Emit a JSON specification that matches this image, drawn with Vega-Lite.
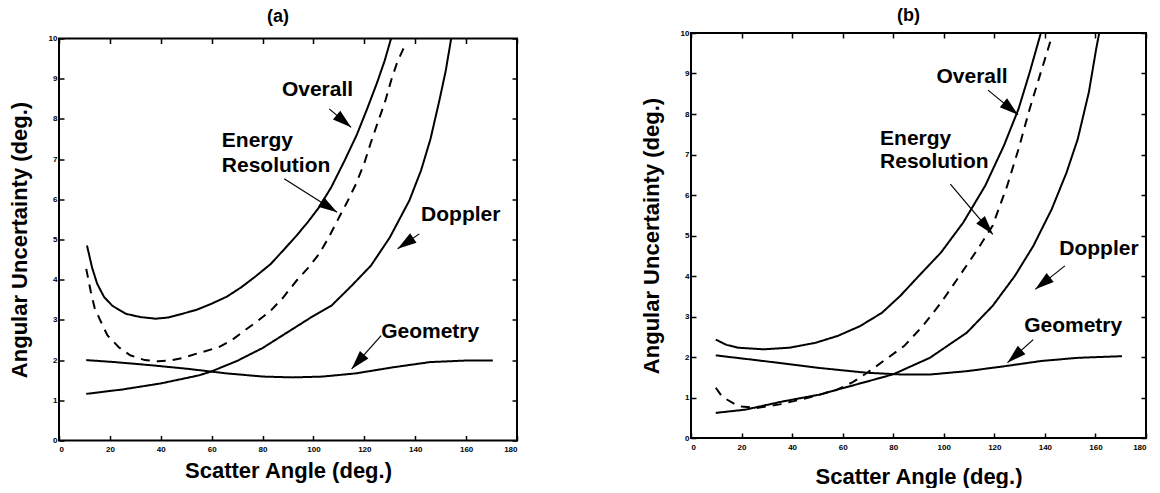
{
  "$schema": "https://vega.github.io/schema/vega-lite/v6.json",
  "background": "white",
  "padding": {"left": 7, "top": 6, "right": 0, "bottom": 0},
  "spacing": 120,
  "center": true,
  "config": {
    "font": "Liberation Sans",
    "view": {"stroke": "black", "strokeWidth": 2},
    "axis": {"domain": false, "grid": false, "tickColor": "black", "tickSize": -5, "tickWidth": 1.5, "labelFont": "Liberation Sans", "labelFontSize": 8, "labelFontWeight": "bold", "labelColor": "black", "titleFont": "Liberation Sans", "titleFontSize": 22, "titleFontWeight": "bold", "titleColor": "black"},
    "title": {"font": "Liberation Sans", "fontSize": 18, "fontWeight": "bold", "color": "black"}
  },
  "datasets": {
    "curves": [
      {"p":"a","s":"Overall","x":11,"y":4.85},{"p":"a","s":"Overall","x":13,"y":4.3},{"p":"a","s":"Overall","x":15,"y":3.9},{"p":"a","s":"Overall","x":17.7,"y":3.57},{"p":"a","s":"Overall","x":21,"y":3.35},{"p":"a","s":"Overall","x":26.4,"y":3.15},{"p":"a","s":"Overall","x":32,"y":3.07},{"p":"a","s":"Overall","x":38,"y":3.03},{"p":"a","s":"Overall","x":43,"y":3.06},{"p":"a","s":"Overall","x":48.3,"y":3.15},{"p":"a","s":"Overall","x":54,"y":3.25},{"p":"a","s":"Overall","x":59.9,"y":3.4},{"p":"a","s":"Overall","x":66,"y":3.58},{"p":"a","s":"Overall","x":71.6,"y":3.81},{"p":"a","s":"Overall","x":77,"y":4.07},{"p":"a","s":"Overall","x":83.2,"y":4.39},{"p":"a","s":"Overall","x":88,"y":4.72},{"p":"a","s":"Overall","x":93.4,"y":5.1},{"p":"a","s":"Overall","x":98,"y":5.45},{"p":"a","s":"Overall","x":102.2,"y":5.8},{"p":"a","s":"Overall","x":107,"y":6.3},{"p":"a","s":"Overall","x":112.3,"y":6.97},{"p":"a","s":"Overall","x":117,"y":7.6},{"p":"a","s":"Overall","x":121.1,"y":8.25},{"p":"a","s":"Overall","x":125,"y":8.9},{"p":"a","s":"Overall","x":128,"y":9.45},{"p":"a","s":"Overall","x":130.5,"y":10},
      {"p":"a","s":"Energy","x":10.7,"y":4.27},{"p":"a","s":"Energy","x":12.5,"y":3.7},{"p":"a","s":"Energy","x":14,"y":3.3},{"p":"a","s":"Energy","x":16.2,"y":2.99},{"p":"a","s":"Energy","x":19,"y":2.62},{"p":"a","s":"Energy","x":23.5,"y":2.32},{"p":"a","s":"Energy","x":28,"y":2.12},{"p":"a","s":"Energy","x":33.7,"y":2.0},{"p":"a","s":"Energy","x":39,"y":1.97},{"p":"a","s":"Energy","x":43.9,"y":1.99},{"p":"a","s":"Energy","x":49,"y":2.06},{"p":"a","s":"Energy","x":54.1,"y":2.16},{"p":"a","s":"Energy","x":62.8,"y":2.32},{"p":"a","s":"Energy","x":68,"y":2.5},{"p":"a","s":"Energy","x":73,"y":2.74},{"p":"a","s":"Energy","x":78,"y":2.97},{"p":"a","s":"Energy","x":83.2,"y":3.23},{"p":"a","s":"Energy","x":88,"y":3.55},{"p":"a","s":"Energy","x":93.4,"y":3.98},{"p":"a","s":"Energy","x":98,"y":4.3},{"p":"a","s":"Energy","x":102.2,"y":4.64},{"p":"a","s":"Energy","x":106,"y":5.05},{"p":"a","s":"Energy","x":109.4,"y":5.47},{"p":"a","s":"Energy","x":113,"y":5.9},{"p":"a","s":"Energy","x":116.7,"y":6.38},{"p":"a","s":"Energy","x":120,"y":6.9},{"p":"a","s":"Energy","x":122.5,"y":7.4},{"p":"a","s":"Energy","x":125.5,"y":7.95},{"p":"a","s":"Energy","x":128.3,"y":8.46},{"p":"a","s":"Energy","x":130.5,"y":8.95},{"p":"a","s":"Energy","x":132.7,"y":9.37},{"p":"a","s":"Energy","x":135,"y":9.7},{"p":"a","s":"Energy","x":136.3,"y":9.87},
      {"p":"a","s":"Doppler","x":10.7,"y":1.16},{"p":"a","s":"Doppler","x":25,"y":1.27},{"p":"a","s":"Doppler","x":40,"y":1.42},{"p":"a","s":"Doppler","x":55,"y":1.62},{"p":"a","s":"Doppler","x":60,"y":1.72},{"p":"a","s":"Doppler","x":70,"y":1.98},{"p":"a","s":"Doppler","x":80,"y":2.3},{"p":"a","s":"Doppler","x":90,"y":2.7},{"p":"a","s":"Doppler","x":100,"y":3.1},{"p":"a","s":"Doppler","x":107,"y":3.35},{"p":"a","s":"Doppler","x":115,"y":3.85},{"p":"a","s":"Doppler","x":122.6,"y":4.35},{"p":"a","s":"Doppler","x":130,"y":5.05},{"p":"a","s":"Doppler","x":137.7,"y":5.97},{"p":"a","s":"Doppler","x":142.3,"y":6.72},{"p":"a","s":"Doppler","x":146,"y":7.5},{"p":"a","s":"Doppler","x":149.5,"y":8.46},{"p":"a","s":"Doppler","x":152,"y":9.2},{"p":"a","s":"Doppler","x":154,"y":9.95},{"p":"a","s":"Doppler","x":154.2,"y":10},
      {"p":"a","s":"Geometry","x":10.7,"y":2.0},{"p":"a","s":"Geometry","x":22,"y":1.95},{"p":"a","s":"Geometry","x":36.6,"y":1.87},{"p":"a","s":"Geometry","x":51,"y":1.78},{"p":"a","s":"Geometry","x":65.7,"y":1.67},{"p":"a","s":"Geometry","x":80.3,"y":1.59},{"p":"a","s":"Geometry","x":91.9,"y":1.57},{"p":"a","s":"Geometry","x":103.6,"y":1.59},{"p":"a","s":"Geometry","x":116.7,"y":1.67},{"p":"a","s":"Geometry","x":131.2,"y":1.82},{"p":"a","s":"Geometry","x":145.8,"y":1.95},{"p":"a","s":"Geometry","x":160.3,"y":1.99},{"p":"a","s":"Geometry","x":170.5,"y":1.99},
      {"p":"b","s":"Overall","x":9.8,"y":2.43},{"p":"b","s":"Overall","x":14,"y":2.3},{"p":"b","s":"Overall","x":18.6,"y":2.23},{"p":"b","s":"Overall","x":28.8,"y":2.19},{"p":"b","s":"Overall","x":39,"y":2.23},{"p":"b","s":"Overall","x":49.2,"y":2.35},{"p":"b","s":"Overall","x":58,"y":2.52},{"p":"b","s":"Overall","x":66.8,"y":2.76},{"p":"b","s":"Overall","x":75.5,"y":3.09},{"p":"b","s":"Overall","x":82.8,"y":3.51},{"p":"b","s":"Overall","x":90.1,"y":4.0},{"p":"b","s":"Overall","x":98.9,"y":4.58},{"p":"b","s":"Overall","x":107.7,"y":5.32},{"p":"b","s":"Overall","x":116.4,"y":6.23},{"p":"b","s":"Overall","x":123.8,"y":7.22},{"p":"b","s":"Overall","x":129.6,"y":8.13},{"p":"b","s":"Overall","x":134,"y":9.03},{"p":"b","s":"Overall","x":138.4,"y":10},
      {"p":"b","s":"Energy","x":9.8,"y":1.24},{"p":"b","s":"Energy","x":12,"y":1.05},{"p":"b","s":"Energy","x":14.2,"y":0.95},{"p":"b","s":"Energy","x":17,"y":0.85},{"p":"b","s":"Energy","x":20,"y":0.78},{"p":"b","s":"Energy","x":25.9,"y":0.74},{"p":"b","s":"Energy","x":35,"y":0.83},{"p":"b","s":"Energy","x":43.4,"y":0.95},{"p":"b","s":"Energy","x":50,"y":1.05},{"p":"b","s":"Energy","x":58,"y":1.2},{"p":"b","s":"Energy","x":64,"y":1.38},{"p":"b","s":"Energy","x":69.7,"y":1.61},{"p":"b","s":"Energy","x":77,"y":1.94},{"p":"b","s":"Energy","x":84.3,"y":2.27},{"p":"b","s":"Energy","x":91.6,"y":2.76},{"p":"b","s":"Energy","x":98.9,"y":3.34},{"p":"b","s":"Energy","x":106.2,"y":4.0},{"p":"b","s":"Energy","x":113.4,"y":4.66},{"p":"b","s":"Energy","x":119.3,"y":5.24},{"p":"b","s":"Energy","x":125.1,"y":6.23},{"p":"b","s":"Energy","x":129.6,"y":7.14},{"p":"b","s":"Energy","x":134,"y":8.13},{"p":"b","s":"Energy","x":138.4,"y":9.03},{"p":"b","s":"Energy","x":142.7,"y":9.9},
      {"p":"b","s":"Doppler","x":9.8,"y":0.62},{"p":"b","s":"Doppler","x":21.5,"y":0.7},{"p":"b","s":"Doppler","x":36.1,"y":0.9},{"p":"b","s":"Doppler","x":50.7,"y":1.07},{"p":"b","s":"Doppler","x":65.3,"y":1.32},{"p":"b","s":"Doppler","x":79.9,"y":1.57},{"p":"b","s":"Doppler","x":94.5,"y":1.98},{"p":"b","s":"Doppler","x":109.1,"y":2.6},{"p":"b","s":"Doppler","x":119.3,"y":3.26},{"p":"b","s":"Doppler","x":128.1,"y":4.0},{"p":"b","s":"Doppler","x":135.4,"y":4.74},{"p":"b","s":"Doppler","x":142.7,"y":5.65},{"p":"b","s":"Doppler","x":148.6,"y":6.56},{"p":"b","s":"Doppler","x":153,"y":7.38},{"p":"b","s":"Doppler","x":157.4,"y":8.54},{"p":"b","s":"Doppler","x":160.3,"y":9.61},{"p":"b","s":"Doppler","x":161.5,"y":10},
      {"p":"b","s":"Geometry","x":9.8,"y":2.04},{"p":"b","s":"Geometry","x":28.8,"y":1.9},{"p":"b","s":"Geometry","x":50.7,"y":1.73},{"p":"b","s":"Geometry","x":69.7,"y":1.61},{"p":"b","s":"Geometry","x":82.8,"y":1.57},{"p":"b","s":"Geometry","x":95,"y":1.57},{"p":"b","s":"Geometry","x":109.1,"y":1.65},{"p":"b","s":"Geometry","x":123.8,"y":1.77},{"p":"b","s":"Geometry","x":138.4,"y":1.9},{"p":"b","s":"Geometry","x":153,"y":1.98},{"p":"b","s":"Geometry","x":170.5,"y":2.02}
    ],
    "labels": [
      {"p":"a","t":"Overall","x":87.6,"y":8.71},{"p":"a","t":"Energy","x":64,"y":7.46},{"p":"a","t":"Resolution","x":64,"y":6.84},{"p":"a","t":"Doppler","x":142.3,"y":5.6},{"p":"a","t":"Geometry","x":126.6,"y":2.69},
      {"p":"b","t":"Overall","x":97.1,"y":8.92},{"p":"b","t":"Energy","x":74.8,"y":7.38},{"p":"b","t":"Resolution","x":74.8,"y":6.81},{"p":"b","t":"Doppler","x":145.7,"y":4.66},{"p":"b","t":"Geometry","x":131.8,"y":2.76}
    ],
    "arrows": [
      {"p":"a","tx":106.2,"ty":8.25,"hx":114.8,"hy":7.79},{"p":"a","tx":88.5,"ty":6.51,"hx":109.3,"hy":5.68},{"p":"a","tx":141.6,"ty":5.14,"hx":133.1,"hy":4.77},{"p":"a","tx":126.6,"ty":2.61,"hx":115,"hy":1.78},
      {"p":"b","tx":117.5,"ty":8.59,"hx":129.4,"hy":7.98},{"p":"b","tx":102.6,"ty":6.27,"hx":119.4,"hy":5.03},{"p":"b","tx":147.9,"ty":4.25,"hx":136.2,"hy":3.67},{"p":"b","tx":135.4,"ty":2.43,"hx":125.2,"hy":1.86}
    ]
  },
  "hconcat": [
    {
      "width": 458, "height": 402,
      "title": {"text": "(a)", "offset": 9, "dx": -10},
      "layer": [
        {
          "data": {"name": "curves"},
          "transform": [{"filter": "datum.p == 'a'"}],
          "mark": {"type": "line", "color": "black", "strokeWidth": 2, "clip": true},
          "encoding": {
            "x": {"field": "x", "type": "quantitative", "scale": {"domain": [0, 180], "nice": false}, "axis": {"values": [0,20,40,60,80,100,120,140,160,180], "title": "Scatter Angle (deg.)", "labelPadding": 10, "titleY": 30, "titleBaseline": "middle"}},
            "y": {"field": "y", "type": "quantitative", "scale": {"domain": [0, 10], "nice": false}, "axis": {"values": [0,1,2,3,4,5,6,7,8,9,10], "title": "Angular Uncertainty (deg.)", "labelPadding": 7, "titleX": -40, "titleBaseline": "middle"}},
            "detail": {"field": "s"},
            "strokeDash": {"field": "s", "type": "nominal", "scale": {"domain": ["Overall", "Energy", "Doppler", "Geometry"], "range": [[1, 0], [9, 7], [1, 0], [1, 0]]}, "legend": null}
          }
        },
        {
          "data": {"name": "curves"},
          "transform": [{"filter": "datum.p == 'a'"}],
          "mark": {"type": "point", "opacity": 0},
          "encoding": {
            "x": {"field": "x", "type": "quantitative", "axis": {"orient": "top", "values": [0,20,40,60,80,100,120,140,160,180], "labels": false, "title": null}},
            "y": {"field": "y", "type": "quantitative", "axis": {"orient": "right", "values": [0,1,2,3,4,5,6,7,8,9,10], "labels": false, "title": null}}
          }
        },
        {
          "data": {"name": "labels"},
          "transform": [{"filter": "datum.p == 'a'"}],
          "mark": {"type": "text", "align": "left", "baseline": "middle", "fontSize": 21, "fontWeight": "bold", "font": "Liberation Sans", "color": "black"},
          "encoding": {
            "x": {"field": "x", "type": "quantitative", "axis": null},
            "y": {"field": "y", "type": "quantitative", "axis": null},
            "text": {"field": "t"}
          }
        },
        {
          "data": {"name": "arrows"},
          "transform": [{"filter": "datum.p == 'a'"}],
          "mark": {"type": "rule", "color": "black", "strokeWidth": 1.2},
          "encoding": {
            "x": {"field": "tx", "type": "quantitative", "axis": null},
            "y": {"field": "ty", "type": "quantitative", "axis": null},
            "x2": {"field": "hx"},
            "y2": {"field": "hy"}
          }
        },
        {
          "data": {"name": "arrows"},
          "transform": [{"filter": "datum.p == 'a'"}, {"calculate": "atan2((datum.hx - datum.tx) * 2.544, (datum.hy - datum.ty) * 40.2) * 180 / PI", "as": "ang"}],
          "mark": {"type": "point", "shape": "M0,0L0.6,2L-0.6,2Z", "filled": true, "color": "black", "opacity": 1, "size": 360, "strokeWidth": 0},
          "encoding": {
            "x": {"field": "hx", "type": "quantitative", "axis": null},
            "y": {"field": "hy", "type": "quantitative", "axis": null},
            "angle": {"field": "ang", "type": "quantitative", "scale": null}
          }
        }
      ],
      "resolve": {"axis": {"x": "independent", "y": "independent"}}
    },
    {
      "width": 455, "height": 405,
      "title": {"text": "(b)", "offset": 4, "dx": -10},
      "layer": [
        {
          "data": {"name": "curves"},
          "transform": [{"filter": "datum.p == 'b'"}],
          "mark": {"type": "line", "color": "black", "strokeWidth": 2, "clip": true},
          "encoding": {
            "x": {"field": "x", "type": "quantitative", "scale": {"domain": [0, 180], "nice": false}, "axis": {"values": [0,20,40,60,80,100,120,140,160,180], "title": "Scatter Angle (deg.)", "labelPadding": 10, "titleY": 38, "titleBaseline": "middle"}},
            "y": {"field": "y", "type": "quantitative", "scale": {"domain": [0, 10], "nice": false}, "axis": {"values": [0,1,2,3,4,5,6,7,8,9,10], "title": "Angular Uncertainty (deg.)", "labelPadding": 7, "titleX": -40, "titleBaseline": "middle"}},
            "detail": {"field": "s"},
            "strokeDash": {"field": "s", "type": "nominal", "scale": {"domain": ["Overall", "Energy", "Doppler", "Geometry"], "range": [[1, 0], [9, 7], [1, 0], [1, 0]]}, "legend": null}
          }
        },
        {
          "data": {"name": "curves"},
          "transform": [{"filter": "datum.p == 'b'"}],
          "mark": {"type": "point", "opacity": 0},
          "encoding": {
            "x": {"field": "x", "type": "quantitative", "axis": {"orient": "top", "values": [0,20,40,60,80,100,120,140,160,180], "labels": false, "title": null}},
            "y": {"field": "y", "type": "quantitative", "axis": {"orient": "right", "values": [0,1,2,3,4,5,6,7,8,9,10], "labels": false, "title": null}}
          }
        },
        {
          "data": {"name": "labels"},
          "transform": [{"filter": "datum.p == 'b'"}],
          "mark": {"type": "text", "align": "left", "baseline": "middle", "fontSize": 21, "fontWeight": "bold", "font": "Liberation Sans", "color": "black"},
          "encoding": {
            "x": {"field": "x", "type": "quantitative", "axis": null},
            "y": {"field": "y", "type": "quantitative", "axis": null},
            "text": {"field": "t"}
          }
        },
        {
          "data": {"name": "arrows"},
          "transform": [{"filter": "datum.p == 'b'"}],
          "mark": {"type": "rule", "color": "black", "strokeWidth": 1.2},
          "encoding": {
            "x": {"field": "tx", "type": "quantitative", "axis": null},
            "y": {"field": "ty", "type": "quantitative", "axis": null},
            "x2": {"field": "hx"},
            "y2": {"field": "hy"}
          }
        },
        {
          "data": {"name": "arrows"},
          "transform": [{"filter": "datum.p == 'b'"}, {"calculate": "atan2((datum.hx - datum.tx) * 2.528, (datum.hy - datum.ty) * 40.5) * 180 / PI", "as": "ang"}],
          "mark": {"type": "point", "shape": "M0,0L0.6,2L-0.6,2Z", "filled": true, "color": "black", "opacity": 1, "size": 360, "strokeWidth": 0},
          "encoding": {
            "x": {"field": "hx", "type": "quantitative", "axis": null},
            "y": {"field": "hy", "type": "quantitative", "axis": null},
            "angle": {"field": "ang", "type": "quantitative", "scale": null}
          }
        }
      ],
      "resolve": {"axis": {"x": "independent", "y": "independent"}}
    }
  ]
}
